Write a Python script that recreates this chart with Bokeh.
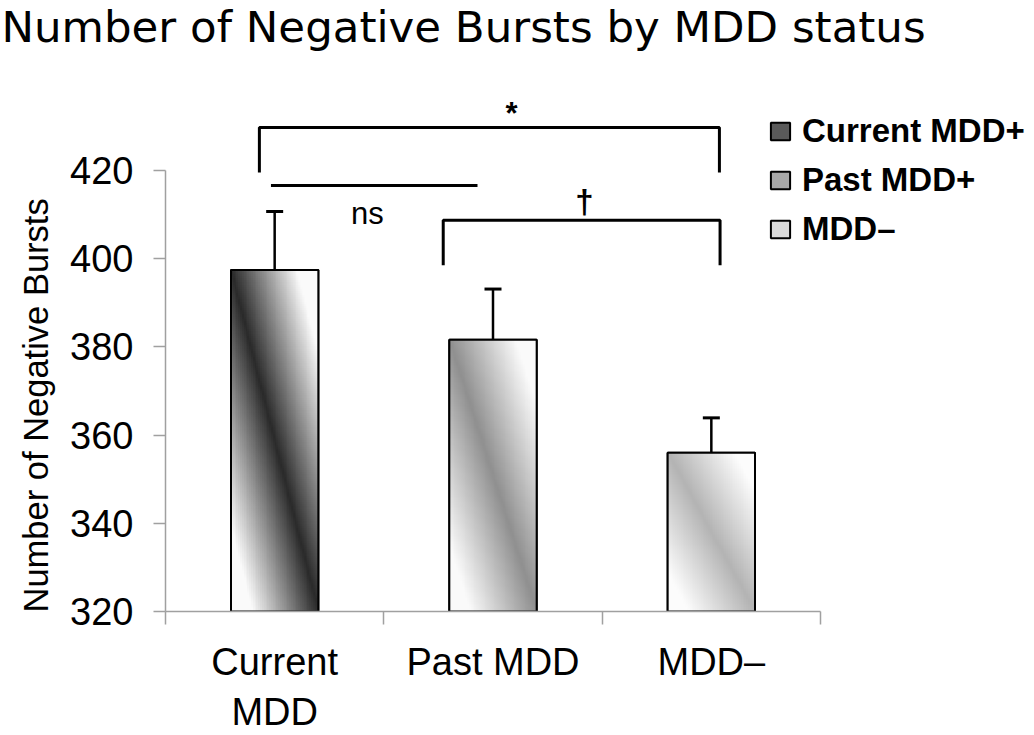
import numpy as np
from bokeh.plotting import figure
from bokeh.models import (ColumnDataSource, Whisker, TeeHead, FixedTicker,
                          Legend, LegendItem, Label, Title)
from bokeh.embed import file_html
from bokeh.resources import INLINE

# ---------------- data ----------------
title_text = "Number of Negative Bursts by MDD status"
y_label = "Number of Negative Bursts"
categories = ["Current\nMDD", "Past MDD", "MDD\u2013"]
legend_labels = ["Current MDD+", "Past MDD+", "MDD\u2013"]
means = [397.4, 381.6, 356.0]
err_upper = [410.7, 393.1, 363.9]
err_lower = [383.5, 370.3, 348.1]
y_ticks = [320, 340, 360, 380, 400, 420]
y_base = 320

# significance annotations (x in category units, y in data units)
bracket_all_x = [0.43, 2.537]
bracket_all_y = 429.7
bracket_all_drop = 419.5
ns_line_x = [0.483, 1.429]
ns_line_y = 416.6
bracket_dag_x = [1.272, 2.540]
bracket_dag_y = 408.7
bracket_dag_drop = 398.5
sig_labels = ["*", "ns", "\u2020"]
sig_label_x = [1.585, 0.925, 1.919]
sig_label_y = [432.8, 410.3, 413.0]
sig_label_style = ["bold", "normal", "bold"]
sig_label_size = ["31px", "31px", "33px"]

# ---------------- styles ----------------
bar_dark = [0x2a, 0x90, 0xb4]
bar_light = [0xfa, 0xfa, 0xfc]
legend_colors = ["#5a5a5a", "#a8a8a8", "#dadada"]
bar_width = 0.4
FONT = "Liberation Sans"

x_centers = [i + 0.5 for i in range(len(categories))]
src = ColumnDataSource(dict(x=x_centers, top=means, upper=err_upper,
                            lower=err_lower, color=legend_colors))

p = figure(width=1032, height=735, x_range=(0, 3.971), y_range=(320, 446.50),
           output_backend="svg", toolbar_location=None,
           min_border_left=165, min_border_right=0, min_border_top=53,
           min_border_bottom=122)
p.outline_line_color = None
p.grid.visible = False
p.background_fill_color = "white"

# title
p.title = Title(text=title_text, align="left", offset=-164, standoff=0,
                vertical_align="top",
                text_font="DejaVu Sans", text_font_size="43.5px",
                text_font_style="normal", text_color="black")


def gradient(dark, light, H=160, W=48):
    u = (np.arange(W) + 0.5) / W
    v = 1 - (np.arange(H) + 0.5) / H      # 0 at top, 1 at bottom
    d = u[None, :] - v[:, None]
    t = np.clip(np.abs(d) / 0.75, 0, 1)
    g = (dark + (light - dark) * t).astype(np.uint8)
    img = np.empty((H, W), dtype=np.uint32)
    view = img.view(dtype=np.uint8).reshape((H, W, 4))
    view[:, :, 0] = g
    view[:, :, 1] = g
    view[:, :, 2] = g
    view[:, :, 3] = 255
    return img


# base bars (solid, used for legend)
base_r = p.vbar(x="x", top="top", bottom=y_base, width=bar_width, source=src,
                fill_color="color", line_color="black", line_width=2)
# gradient fill
imgs = [gradient(bar_dark[i], bar_light[i]) for i in range(len(means))]
p.image_rgba(image=imgs, x=[c - bar_width / 2 for c in x_centers],
             y=[y_base] * len(means), dw=[bar_width] * len(means),
             dh=[m - y_base for m in means])
# outline
p.vbar(x="x", top="top", bottom=y_base, width=bar_width, source=src,
       fill_color=None, line_color="black", line_width=2)

# error bars
w = Whisker(base="x", upper="upper", lower="lower", source=src,
            line_color="black", line_width=2.5,
            upper_head=TeeHead(size=17, line_width=3, line_color="black"),
            lower_head=TeeHead(size=17, line_width=3, line_color="black"))
p.add_layout(w)

# brackets
p.line([bracket_all_x[0], bracket_all_x[0], bracket_all_x[1], bracket_all_x[1]],
       [bracket_all_drop, bracket_all_y, bracket_all_y, bracket_all_drop],
       line_color="black", line_width=3)
p.line(ns_line_x, [ns_line_y, ns_line_y], line_color="black", line_width=3)
p.line([bracket_dag_x[0], bracket_dag_x[0], bracket_dag_x[1], bracket_dag_x[1]],
       [bracket_dag_drop, bracket_dag_y, bracket_dag_y, bracket_dag_drop],
       line_color="black", line_width=3)
for lab, lx, ly, fs, fz in zip(sig_labels, sig_label_x, sig_label_y,
                               sig_label_style, sig_label_size):
    p.add_layout(Label(x=lx, y=ly, text=lab, text_align="center",
                       text_baseline="alphabetic", text_font=FONT,
                       text_font_size=fz, text_font_style=fs,
                       text_color="black"))

# axes
axis_grey = "#a0a0a0"
xa = p.xaxis[0]
xa.bounds = (0, 3)
xa.ticker = FixedTicker(ticks=x_centers, minor_ticks=[0, 1, 2, 3])
xa.major_label_overrides = {c: lab for c, lab in zip(x_centers, categories)}
xa.major_tick_out = 0
xa.major_tick_in = 0
xa.minor_tick_out = 13
xa.minor_tick_in = 0
xa.minor_tick_line_color = axis_grey
xa.minor_tick_line_width = 1.5
xa.axis_line_color = axis_grey
xa.axis_line_width = 1.5
xa.major_label_text_font = FONT
xa.major_label_text_font_size = "38px"
xa.major_label_text_line_height = 1.2
xa.major_label_text_color = "black"
xa.major_label_standoff = 16

ya = p.yaxis[0]
ya.bounds = (320, 420)
ya.ticker = FixedTicker(ticks=y_ticks, minor_ticks=[])
ya.major_tick_out = 12
ya.major_tick_in = 0
ya.major_tick_line_color = axis_grey
ya.major_tick_line_width = 1.5
ya.axis_line_color = axis_grey
ya.axis_line_width = 1.5
ya.major_label_text_font = FONT
ya.major_label_text_font_size = "38px"
ya.major_label_text_color = "black"
ya.major_label_standoff = 20

# y-axis title, placed along the left side starting at the baseline
p.add_layout(Title(text=y_label, align="left", offset=-1, standoff=25,
                   text_font=FONT, text_font_size="34.5px",
                   text_font_style="normal", text_color="black"), "left")

# legend
items = [LegendItem(label=legend_labels[i], renderers=[base_r], index=i)
         for i in range(len(legend_labels))]
legend = Legend(items=items, location=(603, 362.5), orientation="vertical",
                label_text_font=FONT, label_text_font_size="33px",
                label_text_font_style="bold", label_text_color="black",
                glyph_width=24, glyph_height=22, label_height=40,
                label_standoff=10, spacing=9, padding=0, margin=0,
                border_line_color=None, background_fill_alpha=0)
p.add_layout(legend)

open("out.html", "w").write(file_html(p, INLINE))
